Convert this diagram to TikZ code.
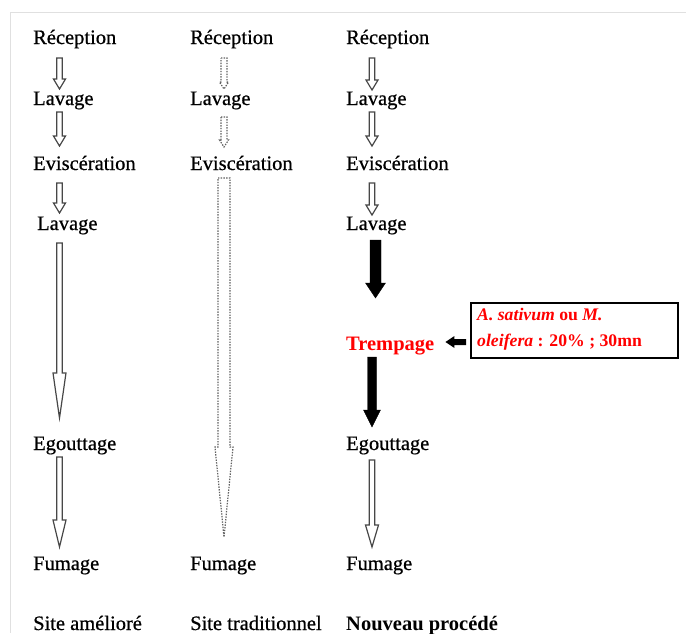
\documentclass[tikz,border=0pt]{standalone}
\usepackage{fontspec}
\setmainfont{Liberation Serif}[
  Extension=.ttf,
  UprightFont=LiberationSerif-Regular,
  BoldFont=LiberationSerif-Bold,
  ItalicFont=LiberationSerif-Italic,
  BoldItalicFont=LiberationSerif-BoldItalic,
  UprightFeatures={FakeBold=0.6}]
\usetikzlibrary{calc}

% vertical block arrow between two nodes along a given axis
% #1 style, #2 axis coordinate, #3 from node, #4 gap below its baseline,
% #5 to node, #6 gap above its baseline, #7 half shaft, #8 half head, #9 head length
\newcommand{\blockdown}[9]{%
  \draw[#1] let \p1=($(#2 |- #3.base)+(0,#4)$), \p2=($(#2 |- #5.base)-(0,#6)$) in
    (\x1-#7,\y1) -- (\x1+#7,\y1) -- (\x1+#7,\y2+#9) -- (\x1+#8,\y2+#9) --
    (\x1,\y2) -- (\x1-#8,\y2+#9) -- (\x1-#7,\y2+#9) -- cycle;}

\tikzset{
  lbl/.style={anchor=base west, inner sep=0pt, font=\fontsize{20.5}{24}\selectfont},
  redlbl/.style={lbl, text=red, font=\fontsize{20.5}{24}\selectfont\bfseries},
  hollow/.style={draw=black!72, line width=1.2pt, fill=white, line join=miter},
  dotarrow/.style={draw=black!62, line width=1.2pt, fill=white, dash pattern=on 1.4pt off 1.3pt},
  solidarrow/.style={draw=black, fill=black, line width=0.4pt},
  notebox/.style={draw=black, line width=1.6pt, minimum width=207pt, minimum height=55pt,
    anchor=north west, inner sep=0pt},
  notetext/.style={anchor=base west, inner sep=0pt, text=red, align=left,
    font=\fontsize{17.7}{26}\selectfont\bfseries},
  framecol/.style={draw=black!12, line width=1pt}
}

\begin{document}
\begin{tikzpicture}[x=1pt, y=-1pt]
\useasboundingbox (0,0) rectangle (686,633);
\fill[white] (0,0) rectangle (686,633);

% light frame
\draw[framecol] (10,12) -- (686,12);
\draw[framecol] (10,12) -- (10,633);

% column axes
\coordinate (ax1) at (59.5,0);
\coordinate (ax2) at (224,0);
\coordinate (ax3) at (372,0);
\coordinate (ax3b) at (375.5,0);

% column 1: improved site
\node[lbl] (r1) at (33,44) {Réception};
\node[lbl] (l1) at (33,105) {Lavage};
\node[lbl] (e1) at (33,170) {Eviscération};
\node[lbl] (m1) at (37,230) {Lavage};
\node[lbl] (g1) at (33,450) {Egouttage};
\node[lbl] (f1) at (33,570) {Fumage};
\node[lbl] (s1) at (33,630) {Site amélioré};

% column 2: traditional site
\node[lbl] (r2) at (190,44) {Réception};
\node[lbl] (l2) at (190,105) {Lavage};
\node[lbl] (e2) at (190,170) {Eviscération};
\node[lbl] (f2) at (190,570) {Fumage};
\node[lbl] (s2) at (190,630) {Site traditionnel};

% column 3: new process
\node[lbl] (r3) at (346,44) {Réception};
\node[lbl] (l3) at (346,105) {Lavage};
\node[lbl] (e3) at (346,170) {Eviscération};
\node[lbl] (m3) at (346,230) {Lavage};
\node[redlbl] (t3) at (346,350) {Trempage};
\node[lbl] (g3) at (346,450) {Egouttage};
\node[lbl] (f3) at (346,570) {Fumage};
\node[lbl, font=\fontsize{20.5}{24}\selectfont\bfseries] (s3) at (346,630) {Nouveau procédé};

% soaking note
\node[notebox] (bx) at (470,302) {};
\node[notetext] (bxt) at (477,346)
  {\itshape A. sativum\upshape{} ou \itshape M.\\ \itshape oleifera\upshape{} : 20\% ; 30mn};

% arrows, column 1
\blockdown{hollow}{ax1}{r1}{14}{l1}{16}{2.8pt}{6pt}{10pt}
\blockdown{hollow}{ax1}{l1}{7}{e1}{24}{2.8pt}{6pt}{10pt}
\blockdown{hollow}{ax1}{e1}{13}{m1}{17}{2.8pt}{6pt}{10pt}
\blockdown{hollow}{ax1}{m1}{13}{g1}{32}{2.8pt}{6.5pt}{45pt}
\blockdown{hollow}{ax1}{g1}{7}{f1}{23}{2.8pt}{6.5pt}{27pt}

% arrows, column 2
\blockdown{dotarrow}{ax2}{r2}{14}{l2}{16}{3pt}{4.5pt}{7pt}
\blockdown{dotarrow}{ax2}{l2}{12}{e2}{23}{3pt}{4.5pt}{7pt}
\blockdown{dotarrow}{ax2}{e2}{8}{f2}{33}{6pt}{9pt}{90pt}

% arrows, column 3
\blockdown{hollow}{ax3}{r3}{14}{l3}{15}{2.8pt}{6pt}{10pt}
\blockdown{hollow}{ax3}{l3}{7}{e3}{24}{2.8pt}{6pt}{10pt}
\blockdown{hollow}{ax3}{e3}{13}{m3}{15}{2.8pt}{6pt}{10pt}
\blockdown{solidarrow}{ax3b}{m3}{10}{t3}{52}{5.5pt}{10pt}{15pt}
\blockdown{solidarrow}{ax3}{t3}{7}{g3}{23}{4.5pt}{8.5pt}{17pt}
\blockdown{hollow}{ax3}{g3}{10}{f3}{23}{2.8pt}{6.5pt}{22pt}

% short arrow from the note to the soaking step
\coordinate (tip) at ($(t3.base east)+(11,-8)$);
\coordinate (tail) at ($(bx.west |- tip)+(-4,0)$);
\fill[black] let \p1=(tail), \p2=(tip) in
  (\x1,\y1-3pt) -- (\x1,\y1+3pt) -- (\x2+9pt,\y1+3pt) -- (\x2+9pt,\y1+6pt) --
  (\x2,\y1) -- (\x2+9pt,\y1-6pt) -- (\x2+9pt,\y1-3pt) -- cycle;
\end{tikzpicture}
\end{document}
